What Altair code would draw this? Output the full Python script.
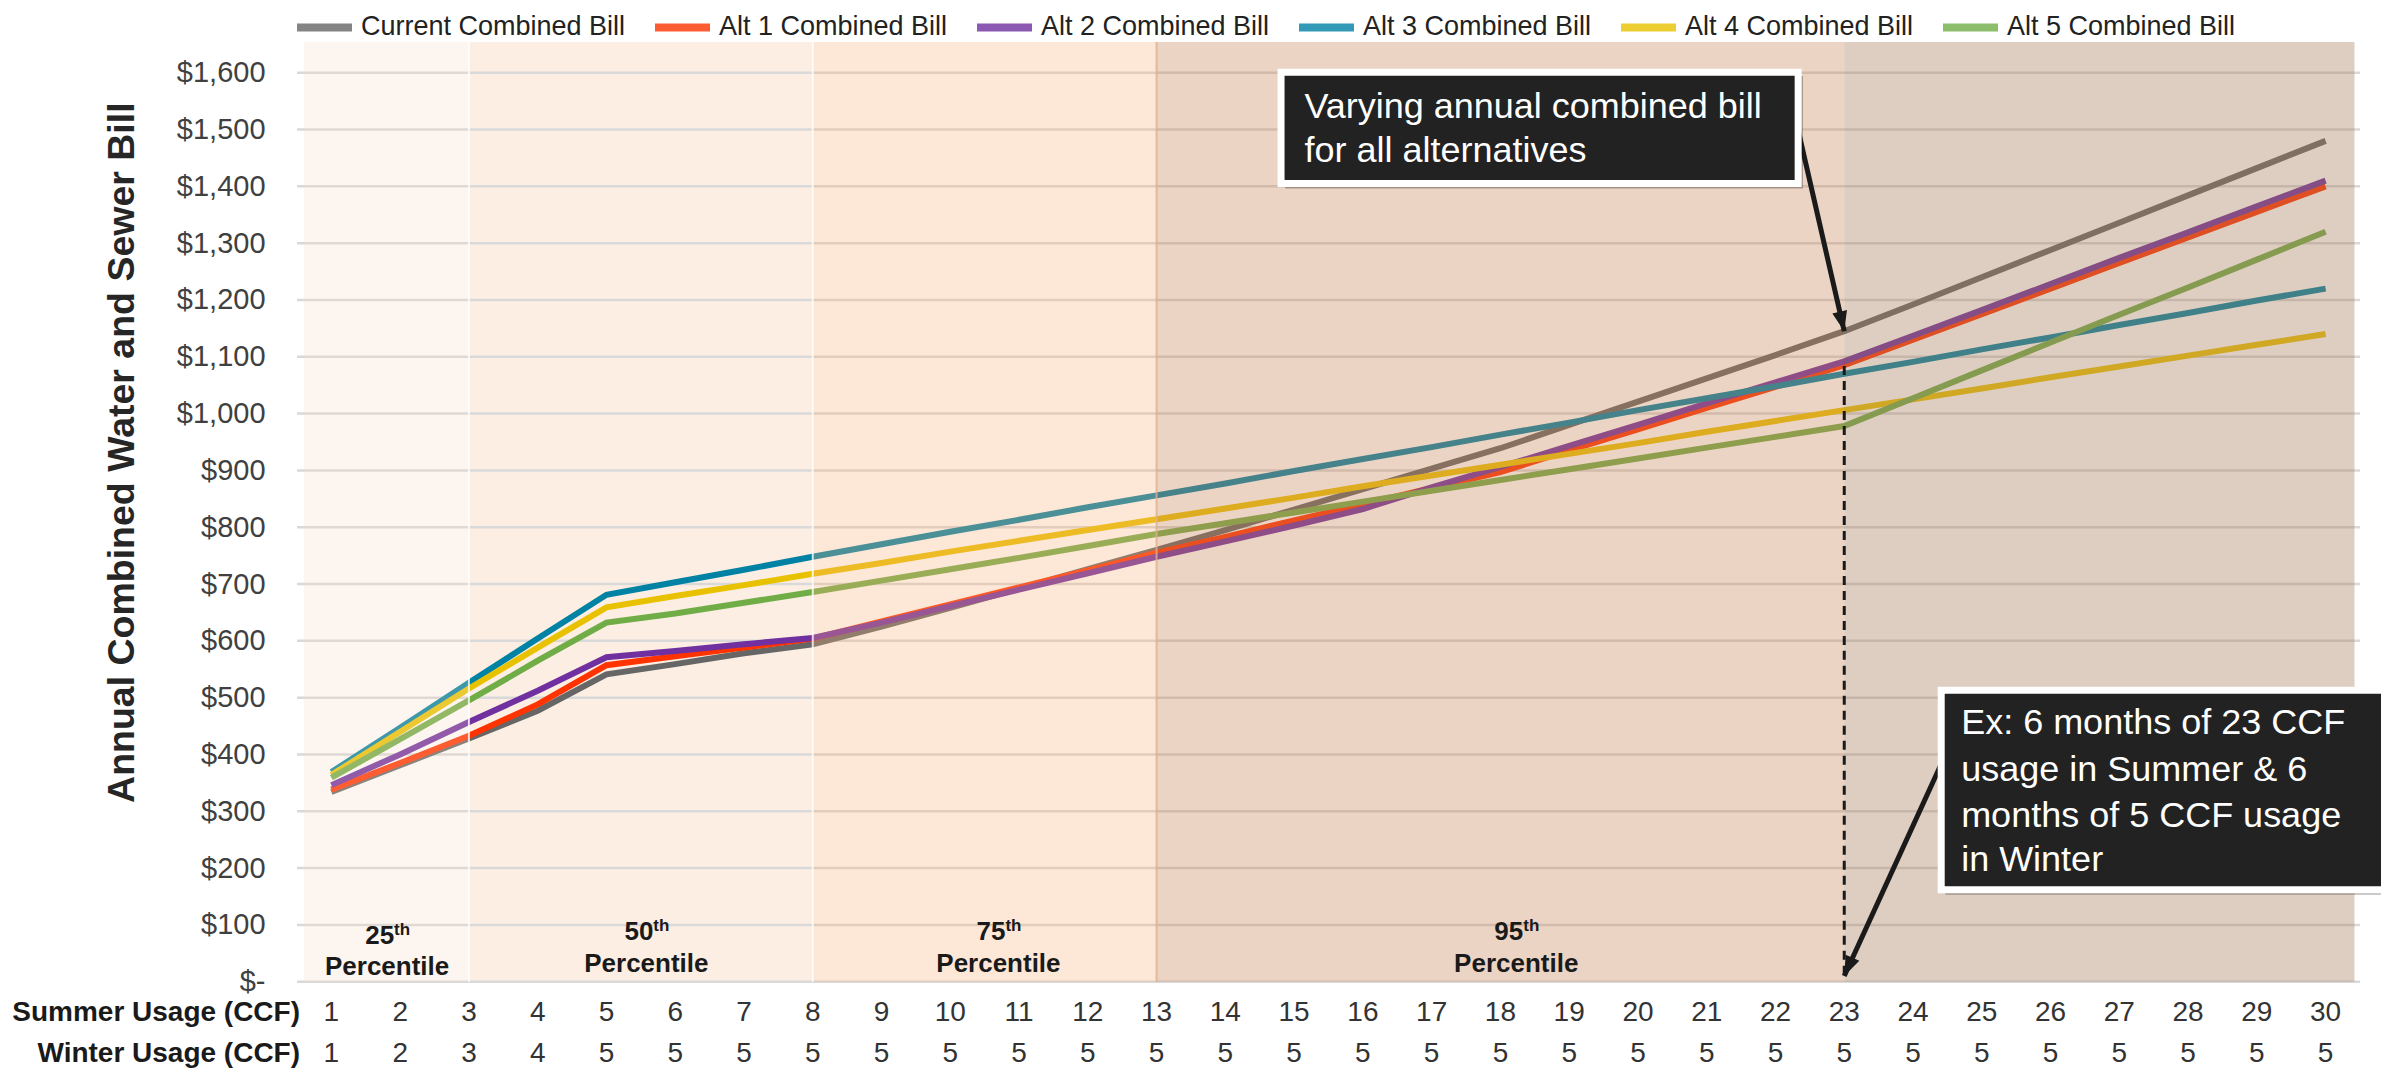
import altair as alt
import pandas as pd

# ---------------- data ----------------
summer_usage = [1, 2, 3, 4, 5, 6, 7, 8, 9, 10, 11, 12, 13, 14, 15, 16, 17, 18, 19, 20,
                21, 22, 23, 24, 25, 26, 27, 28, 29, 30]
winter_usage = [1, 2, 3, 4, 5, 5, 5, 5, 5, 5, 5, 5, 5, 5, 5, 5, 5, 5, 5, 5,
                5, 5, 5, 5, 5, 5, 5, 5, 5, 5]

current_bill = [334, 381, 428, 477, 541, 559, 578, 594, 625, 658, 692, 726, 760, 795, 831,
                867, 903, 939, 980, 1021, 1062, 1103, 1145, 1192, 1240, 1288, 1336, 1384, 1432, 1480]
alt1_bill = [338, 385, 433, 488, 557, 573, 588, 604, 634, 664, 694, 724, 755, 783, 812,
             840, 869, 897, 935, 972, 1010, 1047, 1085, 1130, 1175, 1220, 1265, 1310, 1355, 1400]
alt2_bill = [346, 400, 457, 512, 571, 582, 594, 605, 632, 661, 690, 719, 748, 775, 803,
             832, 870, 906, 943, 980, 1018, 1055, 1092, 1137, 1182, 1228, 1274, 1319, 1365, 1410]
alt3_bill = [369, 447, 526, 604, 681, 703, 725, 748, 770, 792, 813, 835, 856, 877, 899,
             920, 941, 963, 984, 1006, 1027, 1048, 1070, 1091, 1113, 1134, 1156, 1177, 1199, 1220]
alt4_bill = [364, 440, 516, 588, 659, 679, 698, 718, 737, 757, 776, 795, 814, 833, 852,
             872, 891, 910, 929, 948, 968, 987, 1006, 1025, 1044, 1064, 1083, 1102, 1121, 1140]
alt5_bill = [359, 427, 495, 565, 632, 648, 667, 686, 706, 726, 746, 767, 788, 807, 826,
             845, 864, 883, 902, 921, 940, 959, 978, 1027, 1076, 1125, 1174, 1222, 1271, 1320]

series_names = ["Current Combined Bill", "Alt 1 Combined Bill", "Alt 2 Combined Bill",
                "Alt 3 Combined Bill", "Alt 4 Combined Bill", "Alt 5 Combined Bill"]
series_values = [current_bill, alt1_bill, alt2_bill, alt3_bill, alt4_bill, alt5_bill]
series_colors = ["#666666", "#FF3300", "#7030A0", "#0082A4", "#E8C200", "#70AD47"]

y_ticks = [0, 100, 200, 300, 400, 500, 600, 700, 800, 900, 1000, 1100, 1200, 1300, 1400, 1500, 1600]

# percentile bands (x in usage units)
band_start = [0.6, 3, 8, 13, 23]
band_end = [3, 8, 13, 23, 30.42]
band_color = ["#F7DBC3", "#FCEEE2", "#F8AF7A", "#C8845A", "#A77D5C"]
band_opacity = [0.25, 1.0, 0.3, 0.35, 0.38]
band_front = [True, False, True, True, True]
band_top = 1654

pct_numbers = ["25", "50", "75", "95"]
pct_x = [1.81, 5.58, 10.7, 18.23]
pct_num_v = [80, 88, 88, 88]
pct_word_v = [26, 31, 31, 31]

note1_lines = ["Varying annual combined bill", "for all alternatives"]
note2_lines = ["Ex: 6 months of 23 CCF", "usage in Summer & 6", "months of 5 CCF usage", "in Winter"]

FONT = "Liberation Sans"
W, H = 2063, 909

# ---------------- frames ----------------
rows = []
for name, vals in zip(series_names, series_values):
    for s, v in zip(summer_usage, vals):
        rows.append({"series": name, "x": s, "v": v})
lines_df = pd.DataFrame(rows)

bands_df = pd.DataFrame({"x0": band_start, "x1": band_end, "v0": [0] * 5, "v1": [band_top] * 5,
                         "color": band_color, "op": band_opacity, "front": band_front})
usage_df = pd.DataFrame({"x": summer_usage, "s": [str(v) for v in summer_usage],
                         "w": [str(v) for v in winter_usage]})
grid_df = pd.DataFrame({"v": y_ticks})

xs = alt.Scale(domain=[0.5, 30.5], nice=False, zero=False)
ys = alt.Scale(domain=[0, 1600], nice=False, zero=False)

yaxis = alt.Axis(
    values=y_ticks, grid=False, ticks=False, domain=False, title=None,
    labelExpr="datum.value == 0 ? '$-' : '$' + format(datum.value, ',')",
    labelFontSize=29, labelFont=FONT, labelColor="#404040", labelPadding=32,
    labelOverlap=False)


def X(f):
    return alt.X(f, scale=xs, axis=None)


def Y(f):
    return alt.Y(f, scale=ys, axis=yaxis)


back_bands = alt.Chart(bands_df[~bands_df["front"]]).mark_rect().encode(
    x=X("x0:Q"), x2="x1", y=Y("v0:Q"), y2="v1",
    fill=alt.Fill("color:N", scale=None), opacity=alt.Opacity("op:Q", scale=None))

grid = alt.Chart(grid_df).mark_rule(color="#D9D9D9", strokeWidth=2.5).encode(
    y=Y("v:Q"), x=alt.value(0), x2=alt.value(W))

lines = alt.Chart(lines_df).mark_line(strokeWidth=6).encode(
    x=X("x:Q"),
    y=Y("v:Q"),
    color=alt.Color("series:N", scale=alt.Scale(domain=series_names, range=series_colors),
                    sort=series_names,
                    legend=alt.Legend(orient="none", legendX=-4, legendY=-77, direction="horizontal",
                                      title=None, symbolType="stroke", symbolStrokeWidth=8,
                                      symbolSize=3025, labelFontSize=27, labelFont=FONT,
                                      labelColor="#222222", columnPadding=13, labelOffset=5,
                                      labelLimit=600, padding=0, columns=6)),
)

front_bands = alt.Chart(bands_df[bands_df["front"]]).mark_rect().encode(
    x=X("x0:Q"), x2="x1", y=Y("v0:Q"), y2="v1",
    fill=alt.Fill("color:N", scale=None), opacity=alt.Opacity("op:Q", scale=None))

edge_df = pd.DataFrame({"x": [3, 8, 13], "c": ["#FFFFFF", "#FFFFFF", "#DDB08C"],
                        "v0": [0, 0, 0], "v1": [band_top] * 3})
band_edges = alt.Chart(edge_df).mark_rule(strokeWidth=2, opacity=0.8).encode(
    x=X("x:Q"), y=Y("v0:Q"), y2="v1", color=alt.Color("c:N", scale=None))

# y title
ytitle = alt.Chart(pd.DataFrame({"t": ["Annual Combined Water  and Sewer Bill"]})).mark_text(
    angle=270, fontSize=37.5, fontWeight="bold", font=FONT, color="#262626",
    align="center", baseline="middle").encode(
    x=alt.value(-173.6), y=alt.value(380), text="t:N")

# percentile labels
pct_df = pd.DataFrame({"x": pct_x, "n": pct_numbers, "vn": pct_num_v, "vw": pct_word_v,
                       "th": ["th"] * 4, "w": ["Percentile"] * 4})
pct_num = alt.Chart(pct_df).mark_text(align="right", baseline="middle", dx=7, fontSize=26,
                                      fontWeight="bold", font=FONT, color="#1a1a1a").encode(
    x=X("x:Q"), y=Y("vn:Q"), text="n:N")
pct_th = alt.Chart(pct_df).mark_text(align="left", baseline="middle", dx=7, dy=-6, fontSize=17,
                                     fontWeight="bold", font=FONT, color="#1a1a1a").encode(
    x=X("x:Q"), y=Y("vn:Q"), text="th:N")
pct_word = alt.Chart(pct_df).mark_text(align="center", baseline="middle", fontSize=26,
                                       fontWeight="bold", font=FONT, color="#1a1a1a").encode(
    x=X("x:Q"), y=Y("vw:Q"), text="w:N")

# x usage rows
summer_row = alt.Chart(usage_df).mark_text(fontSize=28, font=FONT, color="#333333",
                                           baseline="middle").encode(
    x=X("x:Q"), y=alt.value(H + 31.3), text="s:N")
winter_row = alt.Chart(usage_df).mark_text(fontSize=28, font=FONT, color="#333333",
                                           baseline="middle").encode(
    x=X("x:Q"), y=alt.value(H + 72.3), text="w:N")
row_titles_df = pd.DataFrame({"t": ["Summer Usage (CCF)", "Winter Usage (CCF)"],
                              "yy": [H + 31.3, H + 72.3]})
row_titles = alt.Chart(row_titles_df).mark_text(align="right", baseline="middle", fontSize=28,
                                                fontWeight="bold", font=FONT,
                                                color="#1a1a1a").encode(
    x=alt.value(3), y=alt.Y("yy:Q", scale=None), text="t:N")

# dashed marker at 23 CCF
dash_df = pd.DataFrame({"x": [23], "v0": [12], "v1": [1084]})
dashed = alt.Chart(dash_df).mark_rule(strokeWidth=3, strokeDash=[9, 6], color="#1a1a1a").encode(
    x=X("x:Q"), y=Y("v0:Q"), y2="v1")

# arrows
arrow_df = pd.DataFrame({"x0": [22.29, 24.47], "v0": [1520, 399],
                         "x1": [23.0, 23.0], "v1": [1145, 10], "ang": [166.8, 204.3]})
arrow_lines = alt.Chart(arrow_df).mark_rule(strokeWidth=5, color="#1a1a1a").encode(
    x=X("x0:Q"), y=Y("v0:Q"), x2="x1", y2="v1")
arrow_heads = alt.Chart(arrow_df).mark_point(shape="M0,0L-0.75,2L0.75,2Z", filled=True, size=400,
                                             color="#1a1a1a", opacity=1).encode(
    x=X("x1:Q"), y=Y("v1:Q"), angle=alt.Angle("ang:Q", scale=None))

# note boxes
box_df = pd.DataFrame({"x0": [14.81, 24.41], "x1": [22.33, 31.2],
                       "v0": [1405, 162], "v1": [1601, 513]})
box_shadow_df = pd.DataFrame({"x0": [14.87, 24.47], "x1": [22.40, 31.3],
                              "v0": [1396, 153], "v1": [1594, 506]})
shadows = alt.Chart(box_shadow_df).mark_rect(color="#000000", opacity=0.28).encode(
    x=X("x0:Q"), x2="x1", y=Y("v0:Q"), y2="v1")
boxes = alt.Chart(box_df).mark_rect(fill="#222222", stroke="#FFFFFF", strokeWidth=7).encode(
    x=X("x0:Q"), x2="x1", y=Y("v0:Q"), y2="v1")

note_rows = []
for t, v in zip(note1_lines, [1540, 1462]):
    note_rows.append({"t": t, "x": 15.15, "v": v})
for t, v in zip(note2_lines, [455, 373, 292, 214]):
    note_rows.append({"t": t, "x": 24.7, "v": v})
notes = alt.Chart(pd.DataFrame(note_rows)).mark_text(
    align="left", baseline="middle", fontSize=36, font=FONT, color="#FFFFFF").encode(
    x=X("x:Q"), y=Y("v:Q"), text="t:N")

chart = alt.layer(
    back_bands, grid, lines, front_bands, band_edges, ytitle, pct_num, pct_th, pct_word,
    summer_row, winter_row, row_titles, dashed, arrow_lines, arrow_heads, shadows, boxes, notes
).properties(
    width=W, height=H,
    autosize=alt.AutoSizeParams(type="none"),
    padding={"left": 289, "top": 64.7, "right": 21, "bottom": 87},
).configure_view(stroke=None)

chart.save("out.html", embed_options={"renderer": "svg", "actions": False})
